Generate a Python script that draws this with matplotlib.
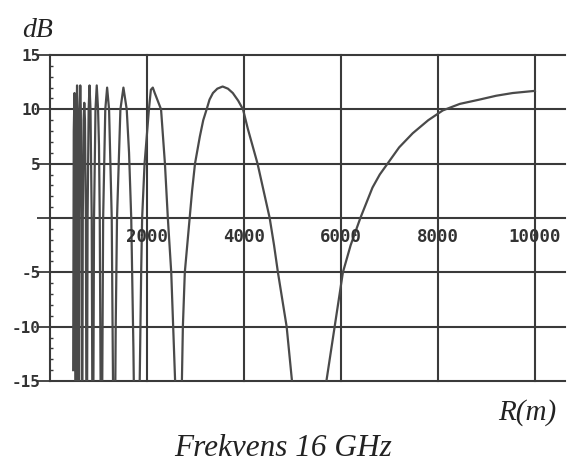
import matplotlib.pyplot as plt
import numpy as np

# received level (dB) versus distance R (m), 16 GHz link
r_m = [478, 490, 505, 512, 521, 530,
       539, 549, 558, 567, 578, 589,
       600, 613, 624, 635, 649, 662,
       676, 693, 707, 721, 740, 757,
       775, 797, 815, 835, 860, 883,
       908, 938, 964, 991, 1010, 1026, 1060,
       1096, 1140, 1178, 1218, 1273, 1325,
       1355, 1382, 1452, 1514, 1582, 1630, 1675, 1720, 1767,
       1850, 1865, 1880, 1900, 1950, 2040, 2080, 2120, 2160, 2290, 2370, 2430,
       2500, 2540, 2580, 2650,
       2720, 2740, 2780, 2830, 2880, 2930, 2990, 3090, 3160, 3230, 3290, 3360,
       3450, 3560, 3670, 3770, 3880, 3980, 4080, 4180, 4280, 4390, 4530, 4620,
       4700, 4880, 4990, 5300,
       5700, 5870, 6040, 6200, 6400, 6650, 6800, 6960, 7200, 7480, 7800, 8100,
       8450, 8860, 9200, 9540, 10000]
gain_db = [-14, 8, 11.5, 10, 0, -30,
           0, 10, 12.2, 10, 0, -30,
           0, 10, 12.2, 10, 0, -30,
           0, 9, 10.6, 9, 0, -30,
           0, 10, 12.2, 10, 0, -30,
           0, 10, 12.2, 10, 6.7, 0, -30,
           0, 10, 12, 10, 0, -30,
           -10, 0, 10, 12, 10, 6, 0, -12, -30,
           -15, -10, -5, 0, 5, 10, 11.8, 12, 11.5, 10, 5, 0,
           -5, -10, -15, -30,
           -15, -10, -5, -2.5, 0, 2.5, 5, 7.5, 9, 10, 10.9, 11.5,
           11.9, 12.1, 11.9, 11.5, 10.8, 10, 8.2, 6.6, 5, 2.8, 0, -2.5,
           -5, -10, -15, -30,
           -15, -10, -5, -2.5, 0, 2.8, 4.0, 5, 6.5, 7.8, 9.0, 9.9,
           10.5, 10.9, 11.25, 11.5, 11.7]

x_ticks = [2000, 4000, 6000, 8000, 10000]
y_ticks = [-15, -10, -5, 0, 5, 10, 15]
y_labels = ["-15", "-10", "-5", "", "5", "10", "15"]

grid_col = "#3a3a3a"
mono = "DejaVu Sans Mono"
serif = "Liberation Serif"

fig = plt.figure(figsize=(5.67, 4.63), dpi=100)
ax = fig.add_axes([50 / 567, 82 / 463, 515 / 567, 326 / 463])

ax.plot(r_m, gain_db, color="#4a4a4a", lw=1.6, zorder=3)

ax.set_xlim(0, 10620)
ax.set_ylim(-15, 15)

ax.set_xticks(x_ticks)
ax.set_yticks(y_ticks)
ax.set_yticklabels(y_labels, fontfamily=mono, fontweight="bold", fontsize=11.5, color="#333333")
ax.set_yticks(np.arange(-15, 16, 1), minor=True)
ax.tick_params(axis="x", length=0, labelbottom=False)
ax.tick_params(axis="y", which="major", direction="out", length=9.5, width=1.3,
               color=grid_col, pad=-3)
ax.tick_params(axis="y", which="minor", direction="in", length=2, width=1, color=grid_col)

ax.grid(True, color=grid_col, lw=1.5)
for gl in ax.get_xgridlines() + ax.get_ygridlines():
    gl.set_clip_on(False)

for s in ["top", "right", "bottom"]:
    ax.spines[s].set_visible(False)
ax.spines["left"].set_color(grid_col)
ax.spines["left"].set_linewidth(1.5)

for xt in x_ticks:
    ax.text(xt, -1.75, str(xt), ha="center", va="center", fontfamily=mono,
            fontweight="bold", fontsize=12.5, color="#333333", zorder=4)

fig.text(22 / 567, 1 - 37 / 463, "dB", fontfamily=serif, style="italic",
         fontsize=20, color="#222222", ha="left", va="baseline")
fig.text(556 / 567, 1 - 420 / 463, "R(m)", fontfamily=serif, style="italic",
         fontsize=21, color="#222222", ha="right", va="baseline")
fig.text(283 / 567, 1 - 456 / 463, "Frekvens 16 GHz", fontfamily=serif, style="italic",
         fontsize=22.5, color="#222222", ha="center", va="baseline")

fig.savefig("out.png", dpi=100)
